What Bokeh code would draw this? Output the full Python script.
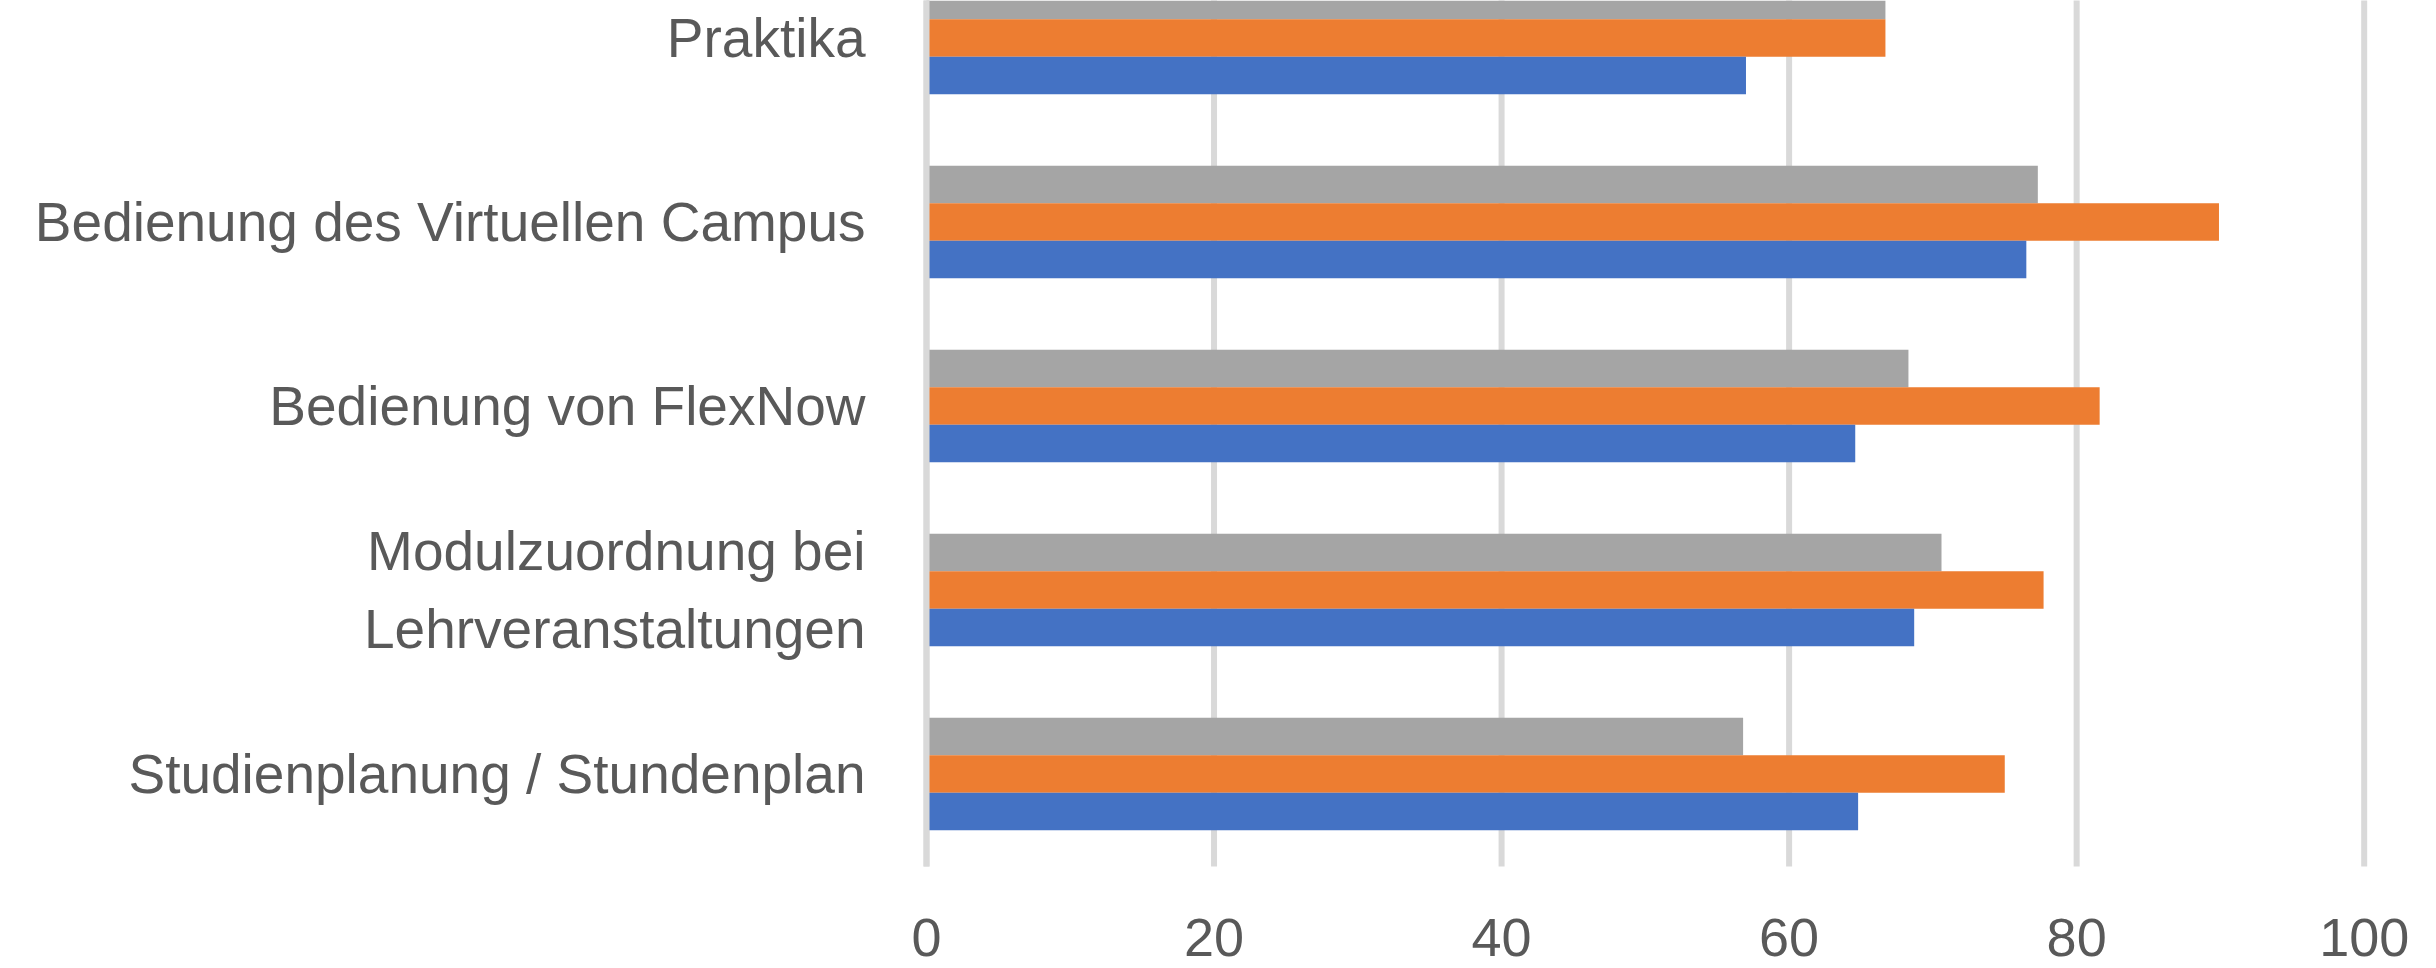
from bokeh.plotting import figure
from bokeh.models import ColumnDataSource, Range1d, FixedTicker
from bokeh.core.properties import value
from bokeh.transform import dodge
from bokeh.embed import file_html
from bokeh.resources import INLINE

# Categories from bottom to top
categories = [
    "Studienplanung / Stundenplan",
    "Modulzuordnung bei\nLehrveranstaltungen",
    "Bedienung von FlexNow",
    "Bedienung des Virtuellen Campus",
    "Praktika",
]
series_blue = [64.8, 68.7, 64.6, 76.5, 57.0]
series_orange = [75.0, 77.7, 81.6, 89.9, 66.7]
series_gray = [56.8, 70.6, 68.3, 77.3, 66.7]

x_ticks = [0, 20, 40, 60, 80, 100]
x_tick_labels = ["0", "20", "40", "60", "80", "100"]

FONT = "Liberation Sans"
TEXT_COLOR = "#595959"
GRID_COLOR = "#D9D9D9"
BAR_H = 0.204

y_idx = list(range(len(categories)))

p = figure(
    width=2436, height=968,
    output_backend="svg", toolbar_location=None,
    x_range=Range1d(-2.991, 105.03), y_range=Range1d(-1.0571, 4.204),
    x_axis_location=None,
    min_border_left=883, min_border_right=0, min_border_top=0, min_border_bottom=0,
)
p.outline_line_color = None
p.xgrid.visible = False
p.ygrid.visible = False
p.background_fill_color = "white"
p.border_fill_color = "white"

# Y axis with category labels
p.yaxis.ticker = FixedTicker(ticks=y_idx)
p.yaxis.major_label_overrides = {i: c for i, c in zip(y_idx, categories)}
p.yaxis.axis_line_color = None
p.yaxis.major_tick_line_color = None
p.yaxis.minor_tick_line_color = None
p.yaxis.major_tick_out = 0
p.yaxis.major_tick_in = 0
p.yaxis.major_label_standoff = 18
p.yaxis.major_label_text_font = FONT
p.yaxis.major_label_text_font_size = "55px"
p.yaxis.major_label_text_color = TEXT_COLOR
p.yaxis.major_label_text_line_height = 1.27

# vertical gridlines (stop at the bottom of the plot area)
grid_bottom = -0.5027
grid_top = 4.4
p.segment(x0=x_ticks, y0=[grid_bottom] * len(x_ticks), x1=x_ticks, y1=[grid_top] * len(x_ticks),
          line_color=GRID_COLOR, line_width=6)

src = ColumnDataSource(dict(
    y=y_idx,
    blue=series_blue,
    orange=series_orange,
    gray=series_gray,
))
p.hbar(y=dodge("y", BAR_H, range=p.y_range), left=0, right="gray", height=BAR_H,
       source=src, fill_color="#A5A5A5", line_color=None)
p.hbar(y=dodge("y", 0, range=p.y_range), left=0, right="orange", height=BAR_H,
       source=src, fill_color="#ED7D31", line_color=None)
p.hbar(y=dodge("y", -BAR_H, range=p.y_range), left=0, right="blue", height=BAR_H,
       source=src, fill_color="#4472C4", line_color=None)

# axis line at zero, drawn over the bars
p.segment(x0=x_ticks[:1], y0=[grid_bottom], x1=x_ticks[:1], y1=[grid_top],
          line_color=GRID_COLOR, line_width=6)

# x tick labels
p.text(x=x_ticks, y=[-0.89] * len(x_ticks), text=x_tick_labels,
       text_font=value(FONT), text_font_size="54px", text_color=TEXT_COLOR,
       text_align="center", text_baseline="middle")

open("out.html", "w").write(file_html(p, INLINE))
